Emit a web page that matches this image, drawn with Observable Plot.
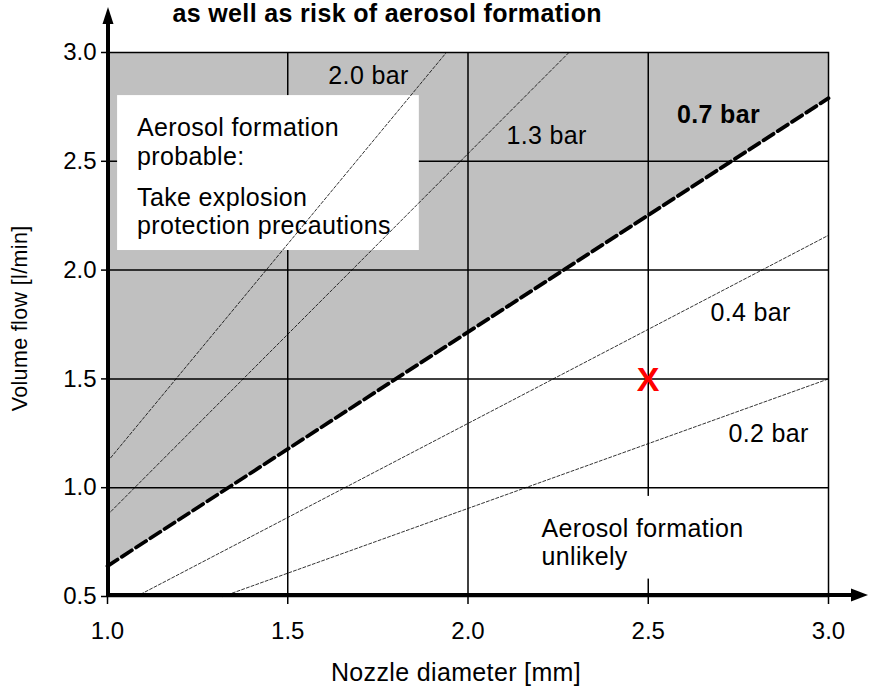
<!DOCTYPE html>
<html><head><meta charset="utf-8">
<script src="https://cdn.jsdelivr.net/npm/d3@7"></script>
<script src="https://cdn.jsdelivr.net/npm/@observablehq/plot@0.6"></script>
<style>
html,body{margin:0;padding:0;background:#fff;}
</style>
</head><body><div id="chart"></div>
<script>
// Tick values
const xTicks = [1.0, 1.5, 2.0, 2.5, 3.0];
const yTicks = [0.5, 1.0, 1.5, 2.0, 2.5, 3.0];
const xGrid = [1.5, 2.0, 2.5];
const yGrid = [1.0, 1.5, 2.0, 2.5];

// Pressure lines: nozzle diameter [mm] -> volume flow [l/min]
const pressureLabels = ["0.2 bar", "0.4 bar", "0.7 bar", "1.3 bar", "2.0 bar"];
const diam02 = [1.32, 3.0], flow02 = [0.5, 1.5];
const diam04 = [1.08, 3.0], flow04 = [0.5, 2.16];
const diam07 = [1.0, 3.0],  flow07 = [0.64, 2.79];
const diam13 = [1.0, 2.28], flow13 = [0.875, 3.0];
const diam20 = [1.0, 1.94], flow20 = [1.12, 3.0];

// Operating point
const pointDiam = [2.5], pointFlow = [1.5];

const texts = {
  title: "as well as risk of aerosol formation",
  xLabel: "Nozzle diameter [mm]",
  yLabel: "Volume flow [l/min]",
  probable1: "Aerosol formation\nprobable:",
  probable2: "Take explosion\nprotection precautions",
  unlikely: "Aerosol formation\nunlikely",
  marker: "X"
};

const rows = (ds, qs, p) => ds.map((d, i) => ({d, q: qs[i], p}));
const thinRows = [
  ...rows(diam02, flow02, pressureLabels[0]),
  ...rows(diam04, flow04, pressureLabels[1]),
  ...rows(diam13, flow13, pressureLabels[3]),
  ...rows(diam20, flow20, pressureLabels[4])
];
const rows07 = rows(diam07, flow07, pressureLabels[2]);
const points = rows(pointDiam, pointFlow, "point");

const FONT = "'Liberation Sans', Arial, Helvetica, sans-serif";
const FS = 25;   // annotation text
const TFS = 24;  // tick labels

const chart = Plot.plot({
  width: 870,
  height: 687,
  marginLeft: 107,
  marginRight: 42,
  marginTop: 52,
  marginBottom: 91,
  style: {fontFamily: FONT, fontSize: FS + "px", background: "white", color: "black", overflow: "visible"},
  x: {domain: [1, 3]},
  y: {domain: [0.5, 3]},
  marks: [
    Plot.areaY(rows07, {x: "d", y1: "q", y2: 3.0, fill: "#c0c0c0"}),
    Plot.ruleX(xGrid, {stroke: "black", strokeWidth: 1.5}),
    Plot.ruleY(yGrid, {stroke: "black", strokeWidth: 1.5}),
    Plot.frame({stroke: "black", strokeWidth: 1.5}),
    Plot.rect([{}], {x1: 1.028, x2: 1.865, y1: 2.09, y2: 2.802, fill: "white"}),
    Plot.rect([{}], {x1: 2.17, x2: 2.96, y1: 0.58, y2: 0.96, fill: "white"}),
    Plot.line(thinRows, {x: "d", y: "q", z: "p", stroke: "black", strokeWidth: 0.8, strokeDasharray: "3,2"}),
    Plot.line(rows07, {x: "d", y: "q", stroke: "black", strokeWidth: 3.8, strokeDasharray: "12,5"}),
    Plot.axisX({ticks: xTicks, tickSize: 8, tickPadding: 17, tickFormat: d => d.toFixed(1), label: null, fontSize: TFS, strokeWidth: 1.5}),
    Plot.axisY({ticks: yTicks, tickSize: 6, tickPadding: 5, tickFormat: d => d.toFixed(1), label: null, fontSize: TFS, strokeWidth: 1.5}),
    // pressure labels
    Plot.text([pressureLabels[4]], {x: 1.724, y: 2.89, text: d => d, fontSize: FS}),
    Plot.text([pressureLabels[3]], {x: 2.218, y: 2.616, text: d => d, fontSize: FS}),
    Plot.text([pressureLabels[2]], {x: 2.695, y: 2.715, text: d => d, fontSize: FS, fontWeight: "bold"}),
    Plot.text([pressureLabels[1]], {x: 2.784, y: 1.805, text: d => d, fontSize: FS}),
    Plot.text([pressureLabels[0]], {x: 2.834, y: 1.249, text: d => d, fontSize: FS}),
    // region texts
    Plot.text([texts.probable1], {x: 1.082, y: 2.715, text: d => d, textAnchor: "start", lineAnchor: "top", lineHeight: 1.19, fontSize: FS}),
    Plot.text([texts.probable2], {x: 1.082, y: 2.389, text: d => d, textAnchor: "start", lineAnchor: "top", lineHeight: 1.14, fontSize: FS}),
    Plot.text([texts.unlikely], {x: 2.204, y: 0.863, text: d => d, textAnchor: "start", lineAnchor: "top", lineHeight: 1.12, fontSize: FS}),
    // operating point
    Plot.text(points, {x: "d", y: "q", text: () => texts.marker, fill: "#ff0000", fontWeight: "bold", fontSize: 34, lineAnchor: "middle", dy: 1}),
    // title and axis titles
    Plot.text([texts.title], {frameAnchor: "top-left", dx: 65, dy: -31, textAnchor: "start", lineAnchor: "bottom", text: d => d, fontWeight: "bold", fontSize: FS}),
    Plot.text([texts.xLabel], {frameAnchor: "bottom", dx: -12, dy: 84, lineAnchor: "bottom", text: d => d, fontSize: FS}),
    Plot.text([texts.yLabel], {x: 0.7587, y: 1.778, rotate: -90, text: d => d, fontSize: 21.5})
  ]
});

document.getElementById("chart").appendChild(chart);

// slightly wider text set, as in the reference
d3.select(chart).selectAll("g[aria-label='text'] text").attr("letter-spacing", "0.35px");

// Axis lines with arrowheads, placed via Plot's own scales
const sx = chart.scale("x"), sy = chart.scale("y");
const x0 = sx.apply(1.0), y0 = sy.apply(0.5);
const svg = d3.select(chart);
const g = svg.append("g").attr("fill", "black").attr("stroke", "black");
g.append("line").attr("x1", x0 + 1).attr("x2", x0 + 1).attr("y1", y0 + 1).attr("y2", 22).attr("stroke-width", 4);
g.append("path").attr("stroke", "none").attr("d", `M${x0 + 1},7 L${x0 + 6.5},24 L${x0 - 4.5},24 Z`);
g.append("line").attr("x1", x0 - 1).attr("x2", 853).attr("y1", y0 - 1).attr("y2", y0 - 1).attr("stroke-width", 4);
g.append("path").attr("stroke", "none").attr("d", `M868,${y0 - 1} L851,${y0 - 7.5} L851,${y0 + 5.5} Z`);
</script>
</body></html>
